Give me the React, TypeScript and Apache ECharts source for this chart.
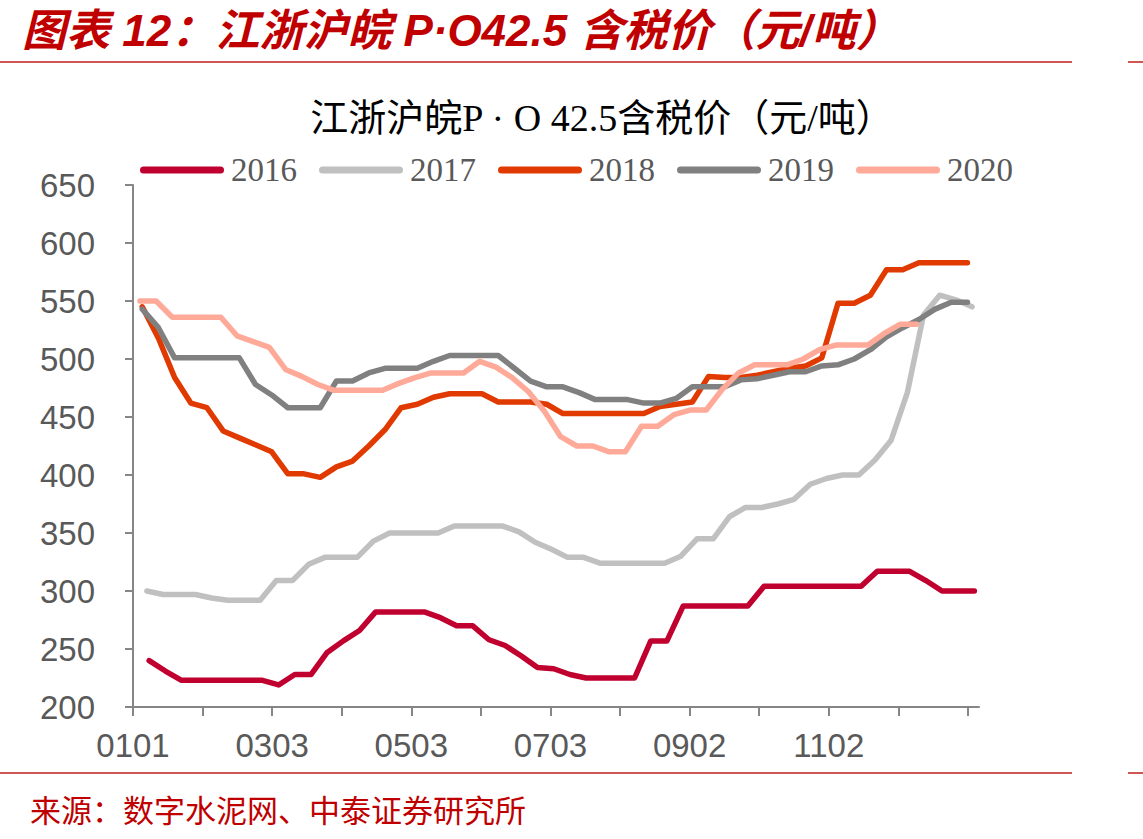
import React, { useEffect, useRef } from "react";
import * as echarts from "echarts";

// Weekly P·O42.5 cement prices (yuan/ton), Jiangsu–Zhejiang–Shanghai–Anhui
const years = ["2016", "2017", "2018", "2019", "2020"];
const lineColors = ["#C0002F", "#C0C0C0", "#E03A00", "#808080", "#FFA999"];
// day of year (0 = Jan 1) of each year's first weekly quote
const firstDay = [7, 6, 4, 4, 3];

const price2016 = [240, 231, 223, 223, 223, 223, 223, 223, 219, 228, 228, 247, 257, 266, 282, 282, 282, 282, 277, 270, 270, 258, 253, 244, 234, 233, 228, 225, 225, 225, 225, 257, 257, 287, 287, 287, 287, 287, 304, 304, 304, 304, 304, 304, 304, 317, 317, 317, 309, 300, 300, 300];
const price2017 = [300, 297, 297, 297, 294, 292, 292, 292, 309, 309, 323, 329, 329, 329, 343, 350, 350, 350, 350, 356, 356, 356, 356, 351, 342, 336, 329, 329, 324, 324, 324, 324, 324, 330, 345, 345, 364, 372, 372, 375, 379, 392, 397, 400, 400, 413, 430, 471, 538, 555, 551, 545];
const price2018 = [545, 518, 484, 462, 458, 438, 432, 426, 420, 401, 401, 398, 407, 412, 425, 439, 458, 461, 467, 470, 470, 470, 463, 463, 463, 461, 453, 453, 453, 453, 453, 453, 459, 461, 463, 485, 484, 484, 486, 489, 492, 494, 501, 548, 548, 555, 577, 577, 583, 583, 583, 583];
const price2019 = [543, 527, 501, 501, 501, 501, 501, 478, 469, 458, 458, 458, 481, 481, 488, 492, 492, 492, 498, 503, 503, 503, 503, 492, 481, 476, 476, 471, 465, 465, 465, 462, 462, 466, 476, 476, 476, 482, 483, 486, 489, 489, 494, 495, 500, 508, 519, 527, 534, 543, 549, 549];
const price2020 = [550, 550, 536, 536, 536, 536, 520, 515, 510, 491, 485, 478, 473, 473, 473, 473, 479, 484, 488, 488, 488, 498, 493, 484, 472, 455, 433, 425, 425, 420, 420, 442, 442, 452, 456, 456, 474, 488, 495, 495, 495, 500, 508, 512, 512, 512, 522, 530, 530];
const prices = [price2016, price2017, price2018, price2019, price2020];

// x axis: days since Jan 1
const xMax = 366;
const tickStep = 30.1;
const tickCount = 13;
const dateLabels = ["0101", "0303", "0503", "0703", "0902", "1102"];

// y axis
const yMin = 200;
const yMax = 650;
const yStep = 50;

const headerText = "图表 12：江浙沪皖 P·O42.5 含税价（元/吨）";
const chartTitle = "江浙沪皖P · O 42.5含税价（元/吨）";
const sourceText = "来源：数字水泥网、中泰证券研究所";

const RED = "#C00000";
const RULE = "#D05555";
const AXIS = "#868686";
const LABEL = "#595959";

export default function App() {
  const ref = useRef<HTMLDivElement>(null);

  useEffect(() => {
    const chart = echarts.init(ref.current!, null, { renderer: "svg" });

    const tickDays = Array.from({ length: tickCount }, (_, i) => i * tickStep);
    const labelDays = dateLabels.map((_, i) => i * 2 * tickStep);

    const series = years.map((y, s) => ({
      name: y,
      type: "line",
      data: prices[s].map((v, i) => [firstDay[s] + 7 * i, v]),
      showSymbol: false,
      symbol: "none",
      lineStyle: { width: 5.5, color: lineColors[s], cap: "round", join: "round" },
      itemStyle: { color: lineColors[s] },
      z: 2 + s,
    }));

    const option = {
      animation: false,
      backgroundColor: "#ffffff",
      color: lineColors,
      grid: { left: 133, top: 185, width: 846, height: 522, containLabel: false },
      legend: {
        data: years,
        left: 135,
        top: 148,
        itemWidth: 84,
        itemHeight: 7,
        itemGap: 22,
        icon: "path://M3.5,0H80.5A3.5,3.5,0,0,1,80.5,7H3.5A3.5,3.5,0,0,1,3.5,0Z",
        itemStyle: { borderWidth: 0 },
        textStyle: {
          fontFamily: "'Liberation Serif', 'Times New Roman', serif",
          fontSize: 33,
          color: LABEL,
          lineHeight: 34,
          padding: [0, 0, 0, 2],
        },
      },
      xAxis: {
        type: "value",
        min: 0,
        max: xMax,
        axisLine: { show: true, lineStyle: { color: AXIS, width: 2 } },
        axisTick: { show: true, length: 9, customValues: tickDays, lineStyle: { color: AXIS, width: 2 } },
        axisLabel: {
          customValues: labelDays,
          margin: 22,
          fontFamily: "'Liberation Sans', Arial, sans-serif",
          fontSize: 33,
          color: LABEL,
          formatter: (v: number) => {
            const i = Math.round(v / (2 * tickStep));
            return dateLabels[i] ?? "";
          },
        },
        splitLine: { show: false },
      },
      yAxis: {
        type: "value",
        min: yMin,
        max: yMax,
        interval: yStep,
        axisLine: { show: true, lineStyle: { color: AXIS, width: 2 } },
        axisTick: { show: true, length: 8, lineStyle: { color: AXIS, width: 2 } },
        axisLabel: {
          margin: 38,
          fontFamily: "'Liberation Sans', Arial, sans-serif",
          fontSize: 33,
          color: LABEL,
        },
        splitLine: { show: false },
      },
      graphic: [
        {
          type: "text",
          x: 22,
          y: 30,
          style: {
            text: headerText,
            fill: RED,
            fontSize: 44,
            fontWeight: "bold",
            fontStyle: "italic",
            fontFamily: "'Liberation Sans', 'Noto Sans CJK SC', sans-serif",
            verticalAlign: "middle",
          },
        },
        { type: "line", shape: { x1: 0, y1: 62, x2: 1072, y2: 62 }, style: { stroke: RULE, lineWidth: 2 } },
        { type: "line", shape: { x1: 1128, y1: 62, x2: 1143, y2: 62 }, style: { stroke: RULE, lineWidth: 2 } },
        {
          type: "text",
          x: 602,
          y: 118,
          style: {
            text: chartTitle,
            fill: "#000000",
            fontSize: 38,
            fontFamily: "'Liberation Serif', 'Noto Sans CJK SC', serif",
            align: "center",
            verticalAlign: "middle",
          },
        },
        { type: "line", shape: { x1: 0, y1: 773, x2: 1072, y2: 773 }, style: { stroke: RULE, lineWidth: 2 } },
        { type: "line", shape: { x1: 1128, y1: 773, x2: 1143, y2: 773 }, style: { stroke: RULE, lineWidth: 2 } },
        {
          type: "text",
          x: 30,
          y: 808,
          style: {
            text: sourceText,
            fill: RED,
            fontSize: 31,
            fontFamily: "'Noto Sans CJK SC', sans-serif",
            verticalAlign: "middle",
          },
        },
      ],
      series,
    };

    chart.setOption(option as any);
    return () => chart.dispose();
  }, []);

  return (
    <div
      ref={ref}
      style={{ position: "fixed", left: 0, top: 0, width: 1143, height: 839, background: "#ffffff" }}
    />
  );
}
